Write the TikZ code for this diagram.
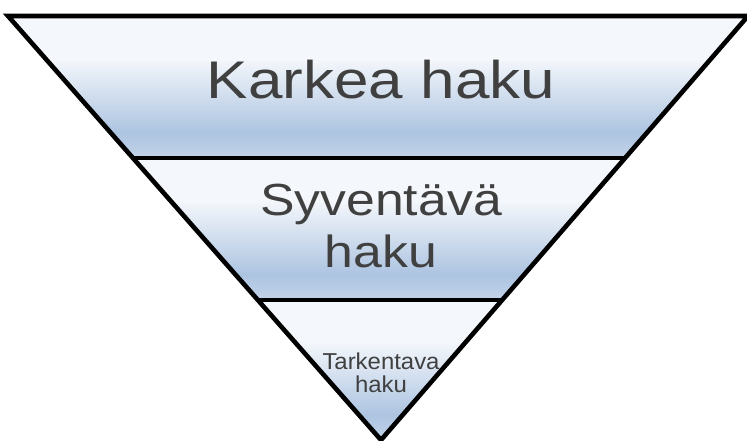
\documentclass[tikz,border=0pt]{standalone}
\usepackage{fontspec}
\setmainfont{Liberation Sans}
\usetikzlibrary{calc}
\definecolor{bandtop}{HTML}{F4F7FB}
\definecolor{bandmid}{HTML}{ADC4E1}
\definecolor{bandlow}{HTML}{C3D3E8}
\definecolor{labelgray}{HTML}{404040}
% white at the top of each band, blue towards its base, a little lighter at the very bottom
\pgfdeclareverticalshading{bandshade}{100bp}{%
  color(0bp)=(bandlow); color(25bp)=(bandlow); color(34bp)=(bandmid);
  color(60bp)=(bandtop); color(75bp)=(bandtop); color(100bp)=(bandtop)}
\tikzset{
  band/.style={shading=bandshade},
  edge/.style={line width=4.6pt, line join=miter, line cap=butt},
  label/.style={text=labelgray, inner sep=0pt, anchor=base}
}
\begin{document}
\begin{tikzpicture}[x=1pt,y=-1pt]
\useasboundingbox (0,0) rectangle (747,441);
% corners of the funnel and the points where the band lines meet its sides
\coordinate (tl) at (8,16);
\coordinate (tr) at (748,16);
\coordinate (apex) at (381,440);
\coordinate (l1) at ($(tl)!0.335!(apex)$);
\coordinate (r1) at ($(tr)!0.335!(apex)$);
\coordinate (l2) at ($(tl)!0.67!(apex)$);
\coordinate (r2) at ($(tr)!0.67!(apex)$);
% the three bands
\path[band] (tl) -- (tr) -- (r1) -- (l1) -- cycle;
\path[band] (l1) -- (r1) -- (r2) -- (l2) -- cycle;
\path[band] (l2) -- (r2) -- (apex) -- cycle;
% outline and separators
\draw[edge] (tl) -- (tr) -- (apex) -- cycle;
\draw[edge] (l1) -- (r1);
\draw[edge] (l2) -- (r2);
% labels
\node[label, font=\fontsize{53}{53}\selectfont, xscale=1.17] (coarse) at (381,99) {Karkea haku};
\node[label, font=\fontsize{45}{45}\selectfont, xscale=1.15] (deep1) at (381,215) {Syventävä};
\node[label, font=\fontsize{45}{45}\selectfont, xscale=1.15] (deep2) at (381,267) {haku};
\node[label, font=\fontsize{23}{23}\selectfont, xscale=1.04] (fine1) at (381,369) {Tarkentava};
\node[label, font=\fontsize{23}{23}\selectfont, xscale=1.04] (fine2) at (381,392) {haku};
\end{tikzpicture}
\end{document}
